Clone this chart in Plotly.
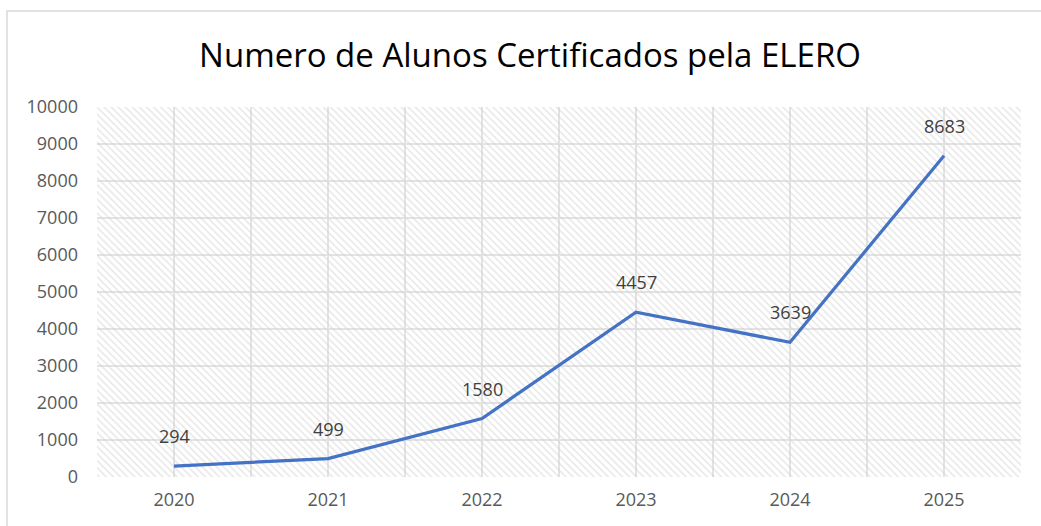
import plotly.graph_objects as go

years = ["2020", "2021", "2022", "2023", "2024", "2025"]
alunos = [294, 499, 1580, 4457, 3639, 8683]
y_ticks = [0, 1000, 2000, 3000, 4000, 5000, 6000, 7000, 8000, 9000, 10000]

x_idx = list(range(len(years)))
x_lo, x_hi = -0.5, len(years) - 0.5
y_lo, y_hi = y_ticks[0], y_ticks[-1]

fig = go.Figure()

# hatched plot-area background (transparent gaps so gridlines show)
fig.add_trace(go.Scatter(
    x=[x_lo, x_hi, x_hi, x_lo, x_lo], y=[y_lo, y_lo, y_hi, y_hi, y_lo],
    mode="lines", line=dict(width=0), fill="toself",
    fillcolor="rgba(0,0,0,0)",
    fillpattern=dict(shape="\\", fgcolor="#cfcfcf", bgcolor="rgba(0,0,0,0)",
                     size=5, solidity=0.3),
    hoverinfo="skip", showlegend=False,
))

fig.add_trace(go.Scatter(
    x=x_idx, y=alunos, mode="lines",
    line=dict(color="#4472C4", width=3.2),
    showlegend=False,
))

for xi, v in zip(x_idx, alunos):
    fig.add_annotation(x=xi, y=v, text=str(v), showarrow=False,
                       yshift=30, font=dict(size=18, color="#404040",
                                            family="Open Sans"))

fig.update_layout(
    width=1041, height=526,
    margin=dict(l=97, r=20, t=107, b=49),
    paper_bgcolor="white", plot_bgcolor="white",
    title=dict(text="Numero de Alunos Certificados pela ELERO",
               x=530 / 1041, xref="container", xanchor="center",
               y=1 - 55 / 526, yanchor="middle",
               font=dict(size=33, color="black", family="Open Sans")),
    xaxis=dict(range=[x_lo, x_hi], tickvals=x_idx, ticktext=years,
               showgrid=True, gridcolor="#e3e3e3", gridwidth=1.5,
               zeroline=False, showline=False, ticks="",
               tickfont=dict(size=18, color="#595959", family="Open Sans"),
               minor=dict(tickvals=[i - 0.5 for i in range(len(years) + 1)],
                          showgrid=True, gridcolor="#e3e3e3", gridwidth=1.5),
               ticklabelstandoff=10),
    yaxis=dict(range=[y_lo, y_hi], tickvals=y_ticks, tickformat="d",
               showgrid=True, gridcolor="#e3e3e3", gridwidth=1.5,
               zeroline=False, showline=False, ticks="",
               tickfont=dict(size=18, color="#595959", family="Open Sans"),
               ticklabelstandoff=18),
)

# outer chart border
fig.add_shape(type="rect", xref="paper", yref="paper",
              x0=(7 - 97) / 924, x1=(1060 - 97) / 924,
              y0=-(560 - 477) / 370, y1=(477 - 11) / 370,
              line=dict(color="#d9d9d9", width=1.5), layer="below")

fig.write_html("out.html")
